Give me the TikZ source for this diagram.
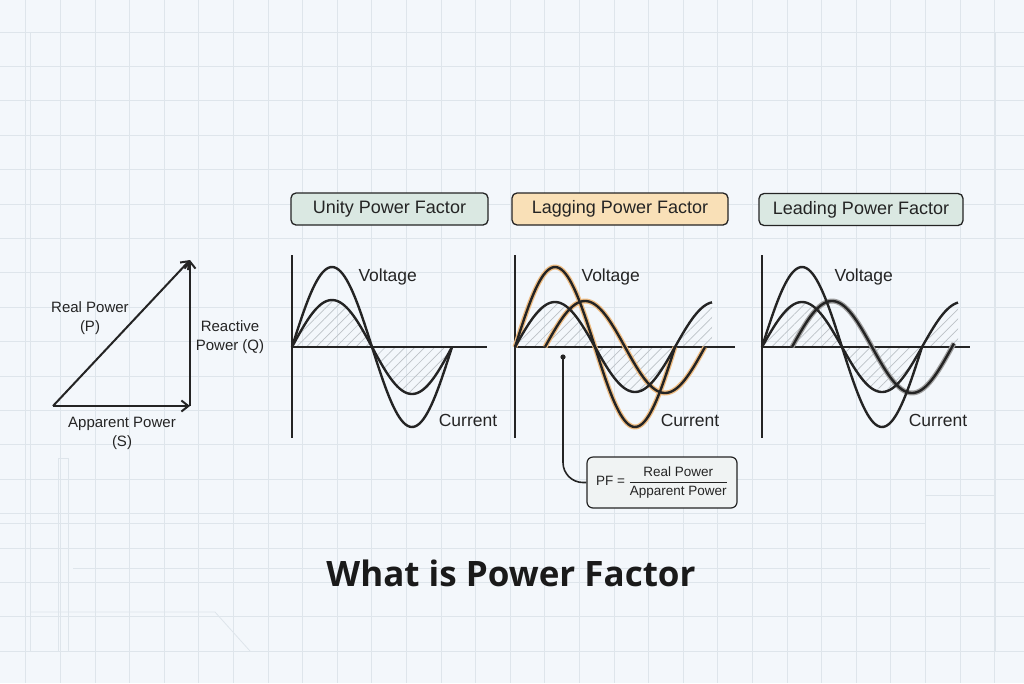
\documentclass[tikz,border=0pt]{standalone}
\usepackage{fontspec}
\setmainfont{Liberation Sans}
\newfontfamily\titlefont{Open Sans}
\usetikzlibrary{shapes, arrows.meta, patterns.meta}
\definecolor{paper}{RGB}{243,247,251}
\definecolor{gridline}{RGB}{222,229,235}
\definecolor{ink}{RGB}{36,36,36}
\definecolor{boxgreen}{RGB}{218,232,226}
\definecolor{boxpeach}{RGB}{249,224,183}
\definecolor{boxgray}{RGB}{240,243,243}
\definecolor{lagglow}{RGB}{238,188,130}
\definecolor{leadglow}{RGB}{160,160,160}
\definecolor{hatchgray}{RGB}{188,194,199}
\tikzstyle{pftitle} = [rectangle, rounded corners=5pt, minimum height=32pt, text centered, draw=ink, line width=1.3pt, text=ink, font=\fontsize{18}{20}\selectfont]
\tikzstyle{wavetext} = [text=ink, font=\fontsize{17.5}{20}\selectfont]
\tikzstyle{sidetext} = [text=ink, align=center, font=\fontsize{15}{19}\selectfont]
\tikzstyle{axis} = [draw=ink, line width=2pt]
\tikzstyle{wave} = [draw=ink, line width=2.4pt]
\tikzstyle{lagwave} = [draw=lagglow, line width=5pt]
\tikzstyle{leadwave} = [draw=leadglow, line width=5pt]
\tikzstyle{hatched} = [pattern={Lines[angle=45, distance=7pt, line width=0.7pt]}, pattern color=hatchgray]
\tikzstyle{arrow} = [draw=ink, line width=2pt, ->, >={Straight Barb[length=7pt, width=11pt]}]

\begin{document}
\begin{tikzpicture}[x=1pt, y=-1pt, align=center]
    % Background
    \useasboundingbox (0,0) rectangle (1024,683);
    \fill[paper] (0,0) rectangle (1024,683);
    \foreach \gx in {0,...,29} \draw[gridline, line width=0.8pt] ({25.8+34.6*\gx},0) -- ++(0,683);
    \foreach \gy in {0,...,19} \draw[gridline, line width=0.8pt] (0,{32+34.4*\gy}) -- ++(1024,0);
    \draw[gridline, line width=1pt] (30,32) rectangle (995,651);
    \draw[gridline, line width=0.8pt] (58,458) -- (58,651) (68,458) -- (68,651) (58,458) -- (68,458);
    \draw[gridline, line width=0.8pt] (30,612) -- (215,612) -- (250,651);
    \draw[gridline, line width=0.7pt] (73,568) -- (990,568);
    \draw[gridline, line width=0.7pt] (0,523) -- (925,523) -- (925,495) -- (995,495);

    % Power triangle
    \coordinate (tri0) at (53,406);
    \coordinate (tri1) at (190,406);
    \coordinate (tri2) at (190,260);
    \node (realp) [sidetext] at (90,318) {Real Power\\(P)};
    \node (reactq) [sidetext] at (230,337) {Reactive\\Power (Q)};
    \node (apps) [sidetext] at (122,433) {Apparent Power\\(S)};
    \draw [arrow] (tri0) -- (tri1);
    \draw [arrow] (tri1) -- (tri2);
    \draw [arrow] (tri0) -- (tri2);

    % Titles
    \node (unity) [pftitle, fill=boxgreen, minimum width=197pt] at (389.5,209) {Unity Power Factor};
    \node (lagging) [pftitle, fill=boxpeach, minimum width=216pt] at (620,209) {Lagging Power Factor};
    \node (leading) [pftitle, fill=boxgreen, minimum width=204pt] at (861,209.5) {Leading Power Factor};

    % Unity
    \fill[hatched] (292,347) -- plot[domain=0:160, samples=80] ({292+\x},{347-47*sin(2.25*\x)}) -- cycle;
    \draw[axis] (292,255) -- (292,438);
    \draw[axis] (292,347) -- (487,347);
    \draw[wave] plot[domain=0:160, samples=80] ({292+\x},{347-80*sin(2.25*\x)});
    \draw[wave] plot[domain=0:160, samples=80] ({292+\x},{347-47*sin(2.25*\x)});
    \node (uvolt) [wavetext, anchor=west] at (355,277) {Voltage};
    \node (ucurr) [wavetext] at (468,420) {Current};

    % Lagging
    \fill[hatched] (515,347) -- plot[domain=0:197, samples=90] ({515+\x},{347-45*sin(2.25*\x)}) -- (712,347) -- cycle;
    \draw[axis] (515,255) -- (515,438);
    \draw[axis] (515,347) -- (735,347);
    \draw[lagwave] plot[domain=0:160, samples=80] ({515+\x},{347-80*sin(2.25*\x)});
    \draw[lagwave] plot[domain=0:160, samples=80] ({545+\x},{347-46*sin(2.25*\x)});
    \draw[wave] plot[domain=0:160, samples=80] ({515+\x},{347-80*sin(2.25*\x)});
    \draw[wave] plot[domain=0:160, samples=80] ({545+\x},{347-46*sin(2.25*\x)});
    \draw[wave] plot[domain=0:197, samples=90] ({515+\x},{347-45*sin(2.25*\x)});
    \node (lgvolt) [wavetext, anchor=west] at (578,277) {Voltage};
    \node (lgcurr) [wavetext] at (690,420) {Current};

    % Leading
    \fill[hatched] (762,347) -- plot[domain=0:196, samples=90] ({762+\x},{347-45*sin(2.25*\x)}) -- (958,347) -- cycle;
    \draw[axis] (762,255) -- (762,438);
    \draw[axis] (762,347) -- (970,347);
    \draw[leadwave] plot[domain=0:162, samples=80] ({792+\x},{347-46*sin(2.25*\x)});
    \draw[wave] plot[domain=0:160, samples=80] ({762+\x},{347-80*sin(2.25*\x)});
    \draw[wave] plot[domain=0:162, samples=80] ({792+\x},{347-46*sin(2.25*\x)});
    \draw[wave] plot[domain=0:196, samples=90] ({762+\x},{347-45*sin(2.25*\x)});
    \node (ldvolt) [wavetext, anchor=west] at (831,277) {Voltage};
    \node (ldcurr) [wavetext] at (938,420) {Current};

    % PF formula
    \node (pfbox) [rectangle, rounded corners=6pt, draw=ink, line width=1.2pt, fill=boxgray, minimum width=150pt, minimum height=51pt, text=ink, font=\fontsize{13.5}{15}\selectfont] at (662,482.5) {PF = $\displaystyle\frac{\mbox{Real Power}}{\mbox{Apparent Power}}$};
    \coordinate (pfdot) at (563,357);
    \fill[ink] (pfdot) circle (2.6pt);
    \draw[ink, line width=1.6pt, rounded corners=20pt] (pfdot) |- (pfbox.west);

    % Heading
    \node (heading) [text={rgb,255:red,26;green,26;blue,26}, font=\titlefont\bfseries\fontsize{35}{40}\selectfont] at (511,573) {What is Power Factor};
\end{tikzpicture}
\end{document}
